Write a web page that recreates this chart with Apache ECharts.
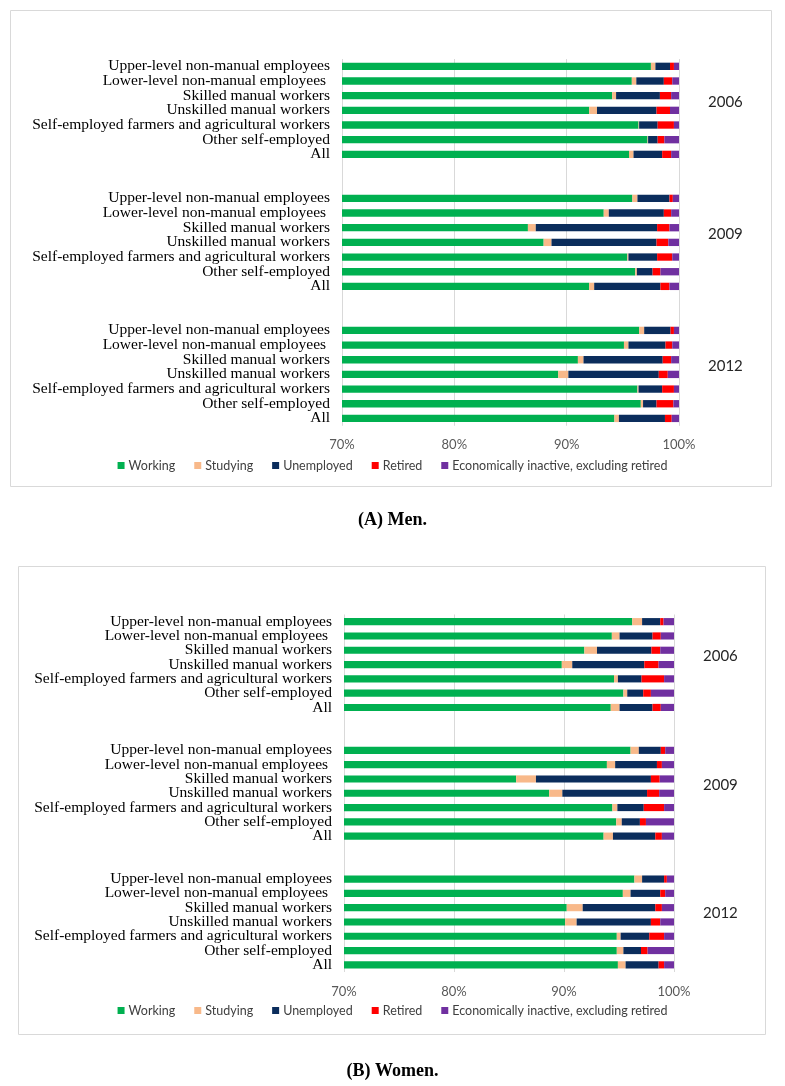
<!DOCTYPE html>
<html>
<head>
<meta charset="utf-8">
<script src="https://cdn.jsdelivr.net/npm/echarts@6/dist/echarts.min.js"></script>
<style>
html,body{margin:0;padding:0;background:#fff;}
#chart{width:785px;height:1086px;}
</style>
</head>
<body>
<div id="chart"></div>
<script>
// ---------- DATA ----------
const categories = [
  'Upper-level non-manual employees',
  'Lower-level non-manual employees ',
  'Skilled manual workers',
  'Unskilled manual workers',
  'Self-employed farmers and agricultural workers',
  'Other self-employed',
  'All'
];
const years = ['2006', '2009', '2012'];
const seriesNames = ['Working', 'Studying', 'Unemployed', 'Retired', 'Economically inactive, excluding retired'];
const tickLabels = ['70%', '80%', '90%', '100%'];

// Men: 2006 (7 rows), 2009 (7 rows), 2012 (7 rows)
const menWorking    = [97.5, 95.8, 94.05, 92.0, 96.4, 97.2, 95.55,  95.85, 93.3, 86.55, 87.95, 95.4, 96.1, 92.0,  96.45, 95.1, 91.0, 89.25, 96.3, 96.6, 94.25];
const menStudying   = [0.4, 0.4, 0.35, 0.7, 0.05, 0.05, 0.4,       0.45, 0.45, 0.7, 0.7, 0.1, 0.15, 0.45,          0.45, 0.4, 0.5, 0.9, 0.1, 0.2, 0.4];
const menUnemployed = [1.3, 2.45, 3.9, 5.3, 1.65, 0.85, 2.55,      2.85, 4.9, 10.8, 9.35, 2.55, 1.4, 5.9,          2.35, 3.3, 7.05, 8.05, 2.1, 1.2, 4.1];
const menRetired    = [0.35, 0.75, 1.0, 1.2, 1.45, 0.6, 0.8,       0.3, 0.65, 1.1, 1.05, 1.35, 0.7, 0.8,           0.3, 0.6, 0.75, 0.8, 1.05, 1.5, 0.6];
const menInactive   = [0.45, 0.6, 0.7, 0.8, 0.45, 1.3, 0.7,        0.55, 0.7, 0.85, 0.95, 0.6, 1.65, 0.85,         0.45, 0.6, 0.7, 1.0, 0.45, 0.5, 0.65];

// Women
const womenWorking    = [96.2, 94.35, 91.85, 89.8, 94.55, 95.4, 94.25,  96.05, 93.9, 85.65, 88.65, 94.4, 94.75, 93.6,  96.4, 95.35, 90.25, 90.1, 94.8, 94.8, 94.9];
const womenStudying   = [0.9, 0.7, 1.15, 0.95, 0.35, 0.35, 0.8,        0.75, 0.75, 1.8, 1.2, 0.45, 0.5, 0.85,          0.7, 0.7, 1.45, 1.05, 0.35, 0.6, 0.7];
const womenUnemployed = [1.65, 3.0, 4.95, 6.55, 2.15, 1.45, 3.0,        2.0, 3.8, 10.45, 7.7, 2.4, 1.65, 3.85,          2.0, 2.7, 6.6, 6.75, 2.6, 1.6, 3.0];
const womenRetired    = [0.3, 0.75, 0.8, 1.3, 2.05, 0.7, 0.75,          0.4, 0.45, 0.8, 1.1, 1.85, 0.55, 0.6,           0.25, 0.45, 0.6, 0.85, 1.35, 0.6, 0.5];
const womenInactive   = [0.95, 1.2, 1.25, 1.4, 0.9, 2.1, 1.2,           0.8, 1.1, 1.3, 1.35, 0.9, 2.55, 1.1,            0.65, 0.8, 1.1, 1.25, 0.9, 2.4, 0.9];

// ---------- BUILD ----------
const colors = ['#00b050', '#f8b98a', '#0b2d5c', '#ff0000', '#7030a0'];
const GAP = 2; // blank rows between year groups

function slots(arr) {
  const out = [];
  years.forEach((y, g) => {
    for (let i = 0; i < categories.length; i++) out.push(arr[g * categories.length + i]);
    if (g < years.length - 1) for (let k = 0; k < GAP; k++) out.push(null);
  });
  return out;
}
function catSlots() {
  const out = [];
  years.forEach((y, g) => {
    categories.forEach(c => out.push(c));
    if (g < years.length - 1) for (let k = 0; k < GAP; k++) out.push('');
  });
  return out;
}
function yearSlots() {
  const out = [];
  const mid = Math.floor(categories.length / 2);
  years.forEach((y, g) => {
    categories.forEach((c, i) => out.push(i === mid ? y : ''));
    if (g < years.length - 1) for (let k = 0; k < GAP; k++) out.push('');
  });
  return out;
}

const nSlots = catSlots().length;
const menGrid = { left: 342, width: 337, top: 59, height: 14.67 * nSlots };
const womenGrid = { left: 344, width: 330, top: 614.5, height: 14.3 * nSlots };

const serifFont = '"Liberation Serif", "Times New Roman", serif';
const sansFont = 'Lato, "Open Sans", sans-serif';

function xAxisFor(gi) {
  return {
    type: 'value', gridIndex: gi, min: 70, max: 100, interval: 10,
    axisLine: { show: false }, axisTick: { show: false },
    splitLine: { show: true, lineStyle: { color: '#d9d9d9', width: 1 } },
    axisLabel: {
      margin: 13, color: '#595959', fontFamily: sansFont, fontSize: 13,
      formatter: v => tickLabels[Math.round((v - 70) / 10)]
    }
  };
}
function yAxesFor(gi) {
  return [
    {
      type: 'category', gridIndex: gi, data: catSlots(), inverse: true,
      axisLine: { show: false }, axisTick: { show: false },
      axisLabel: { interval: 0, margin: 12, color: '#000', fontFamily: serifFont, fontSize: 15.5 }
    },
    {
      type: 'category', gridIndex: gi, data: yearSlots(), inverse: true, position: 'right',
      axisLine: { show: false }, axisTick: { show: false },
      axisLabel: { interval: 0, margin: 29, color: '#262626', fontFamily: sansFont, fontSize: 15, verticalAlign: 'bottom', padding: [0, 0, 1, 0] }
    }
  ];
}

const menData = [menWorking, menStudying, menUnemployed, menRetired, menInactive];
const womenData = [womenWorking, womenStudying, womenUnemployed, womenRetired, womenInactive];

const series = [];
[menData, womenData].forEach((set, gi) => {
  set.forEach((arr, si) => {
    series.push({
      name: seriesNames[si], type: 'bar', stack: 'g' + gi,
      xAxisIndex: gi, yAxisIndex: gi * 2,
      barWidth: '50%', clip: true,
      itemStyle: { color: colors[si] },
      emphasis: { disabled: true },
      data: slots(arr)
    });
  });
});

function legendFor(top) {
  return {
    top: top, left: 'center', icon: 'rect', itemWidth: 7, itemHeight: 7, itemGap: 19,
    textStyle: { fontFamily: sansFont, fontSize: 12.5, color: '#404040', padding: [0, 0, 0, -1] },
    data: seriesNames, selectedMode: false
  };
}

const option = {
  animation: false,
  color: colors,
  grid: [
    { left: menGrid.left, width: menGrid.width, top: menGrid.top, height: menGrid.height },
    { left: womenGrid.left, width: womenGrid.width, top: womenGrid.top, height: womenGrid.height }
  ],
  xAxis: [xAxisFor(0), xAxisFor(1)],
  yAxis: [...yAxesFor(0), ...yAxesFor(1)],
  legend: [legendFor(454), legendFor(999)],
  series: series,
  graphic: [
    { type: 'rect', z: -10, shape: { x: 10.5, y: 10.5, width: 761, height: 476 }, style: { fill: 'none', stroke: '#d9d9d9', lineWidth: 1 } },
    { type: 'rect', z: -10, shape: { x: 18.5, y: 566.5, width: 747, height: 468 }, style: { fill: 'none', stroke: '#d9d9d9', lineWidth: 1 } },
    { type: 'text', left: 'center', top: 511, style: { text: '(A) Men.', font: 'bold 18px ' + serifFont, fill: '#000' } },
    { type: 'text', left: 'center', top: 1062, style: { text: '(B) Women.', font: 'bold 18px ' + serifFont, fill: '#000' } }
  ]
};

const chart = echarts.init(document.getElementById('chart'), null, { renderer: 'canvas' });
chart.setOption(option);
</script>
</body>
</html>
